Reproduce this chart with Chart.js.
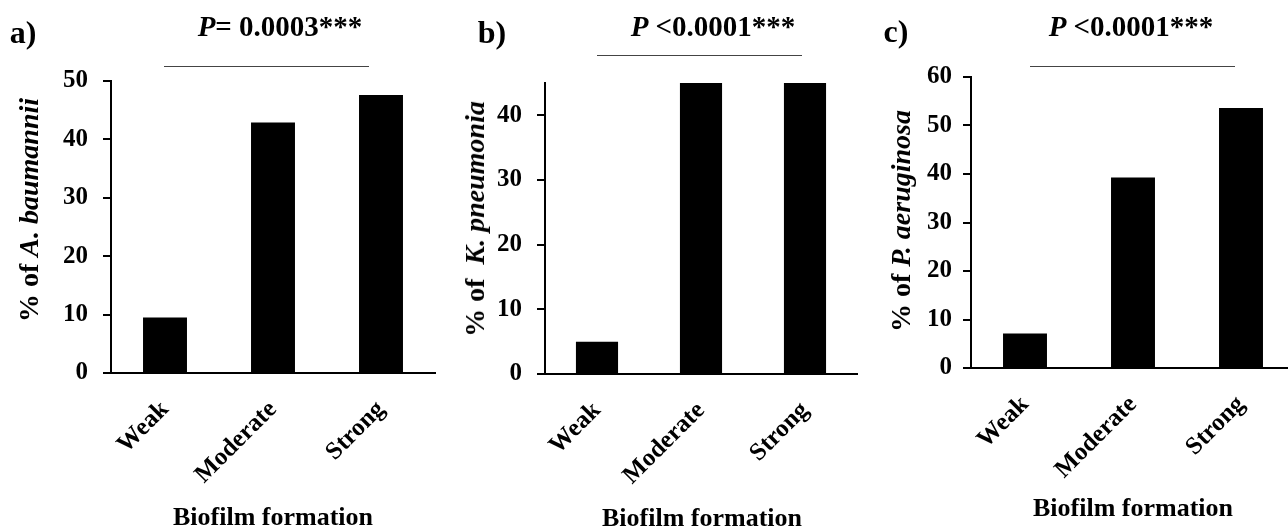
<!DOCTYPE html>
<html><head><meta charset="utf-8">
<script src="https://cdn.jsdelivr.net/npm/chart.js@4.4.1/dist/chart.umd.min.js"></script>
<style>
html,body{margin:0;padding:0;background:#fff;width:1288px;height:530px;overflow:hidden;position:relative;font-family:"Liberation Serif","Times New Roman",serif;font-weight:bold;color:#000}
canvas{position:absolute;top:0}
.t{position:absolute;white-space:nowrap;transform:translate(-50%,-50%);line-height:1}
.yt{position:absolute;white-space:nowrap;transform:translate(-50%,-50%) rotate(-90deg);line-height:1;font-size:28px}
.sig{position:absolute;height:0;border-top:1.5px solid #444}
.pl{font-size:32px}
.pt{font-size:29px}
.xt{font-size:26px}
</style></head><body>
<canvas id="ca" width="440" height="530" style="left:0px"></canvas>
<canvas id="cb" width="420" height="530" style="left:440px"></canvas>
<canvas id="cc" width="440" height="530" style="left:860px"></canvas>

<div class="t pl" style="left:23px;top:32px">a)</div>
<div class="t pl" style="left:492px;top:32px">b)</div>
<div class="t pl" style="left:896px;top:31px">c)</div>

<div class="t pt" style="left:280px;top:26px"><i>P</i>= 0.0003***</div>
<div class="t pt" style="left:713px;top:26px"><i>P</i> &lt;0.0001***</div>
<div class="t pt" style="left:1131px;top:26px"><i>P</i> &lt;0.0001***</div>

<div class="sig" style="left:164px;width:205px;top:66px"></div>
<div class="sig" style="left:597px;width:205px;top:55px"></div>
<div class="sig" style="left:1030px;width:205px;top:66px"></div>

<div class="yt" style="left:29px;top:210px">% of <i>A. baumannii</i></div>
<div class="yt" style="left:475px;top:219px">% of&nbsp; <i>K. pneumonia</i></div>
<div class="yt" style="left:901px;top:221px">% of <i>P. aeruginosa</i></div>

<div class="t xt" style="left:273px;top:517px">Biofilm formation</div>
<div class="t xt" style="left:702px;top:518px">Biofilm formation</div>
<div class="t xt" style="left:1133px;top:508px">Biofilm formation</div>

<script>
// ---- data ----
const categories = ['Weak', 'Moderate', 'Strong'];
const valuesA = [9.5, 42.9, 47.6];   // % of A. baumannii
const valuesB = [5.0, 45.0, 45.0];   // % of K. pneumonia
const valuesC = [7.1, 39.3, 53.6];   // % of P. aeruginosa
const yMaxA = 50, yMaxB = 45, yMaxC = 60;
const yStep = 10;

const FAMILY = '"Liberation Serif","Times New Roman",serif';

function makeChart(id, values, yMax, g) {
  return new Chart(document.getElementById(id), {
    type: 'bar',
    data: {
      labels: categories,
      datasets: [{
        data: values,
        backgroundColor: '#000',
        borderWidth: 0,
        barPercentage: g.bp,
        categoryPercentage: 1
      }]
    },
    options: {
      responsive: false,
      animation: false,
      devicePixelRatio: 1,
      layout: { padding: { left: 0, right: g.pr, top: g.top, bottom: 0 } },
      plugins: { legend: { display: false }, tooltip: { enabled: false }, title: { display: false } },
      scales: {
        x: {
          grid: { display: false, drawTicks: false },
          border: { display: true, color: '#000', width: 2 },
          ticks: {
            maxRotation: 45, minRotation: 45, padding: g.xpad, color: '#000',
            font: { family: FAMILY, size: 25, weight: 'bold' }
          },
          afterFit: s => { s.height = g.xh; }
        },
        y: {
          min: 0, max: yMax,
          ticks: {
            stepSize: yStep, padding: g.ypad, color: '#000',
            font: { family: FAMILY, size: 25, weight: 'bold' }
          },
          grid: { drawOnChartArea: false, drawTicks: true, tickLength: 8, color: '#000', lineWidth: 2 },
          border: { display: true, color: '#000', width: 2 },
          afterBuildTicks: s => { s.ticks = s.ticks.filter(t => t.value % yStep === 0); },
          afterFit: s => { s.width = g.yw; }
        }
      }
    }
  });
}

makeChart('ca', valuesA, yMaxA, { bp: 0.407, pr: 5, top: 81, xh: 157, yw: 111, ypad: 15, xpad: 22 });
makeChart('cb', valuesB, yMaxB, { bp: 0.405, pr: 3, top: 83, xh: 156, yw: 105, ypad: 15, xpad: 22 });
makeChart('cc', valuesC, yMaxC, { bp: 0.407, pr: 5, top: 77, xh: 162, yw: 111, ypad: 11, xpad: 22 });
</script>
</body></html>
